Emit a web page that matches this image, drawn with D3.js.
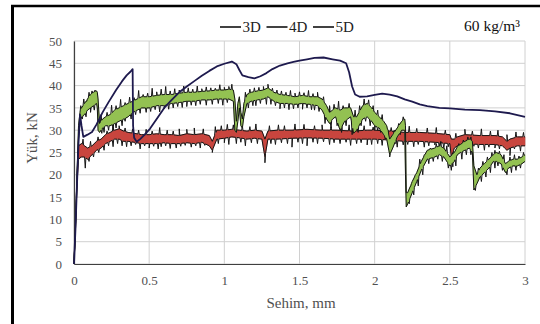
<!DOCTYPE html>
<html>
<head>
<meta charset="utf-8">
<script src="https://cdn.jsdelivr.net/npm/d3@7"></script>
<style>
  body { margin: 0; background: #fff; }
  svg { display: block; }
</style>
</head>
<body>
<div id="chart"></div>
<script>
// x ticks (mm) and y ticks (kN)
var xTicks = [0, 0.5, 1, 1.5, 2, 2.5, 3];
var yTicks = [0, 5, 10, 15, 20, 25, 30, 35, 40, 45, 50];
var seriesNames = ["3D", "4D", "5D"];

// 3D : thin dark line  [deflection, load]
var load3D = [[0,0],[0.01,8],[0.02,18],[0.03,27],[0.04,33.5],[0.05,31],[0.062,28.5],[0.09,29],[0.12,29.6],
  [0.15,31.3],[0.19,34],[0.23,36.3],[0.28,39],[0.32,41],[0.35,42.3],[0.375,43.1],[0.39,43.7],[0.393,31],
  [0.40,28.3],[0.417,27.4],[0.44,28],[0.47,29],[0.505,30.3],[0.55,32.5],[0.6,35],[0.65,36.8],[0.7,38.5],
  [0.75,39.8],[0.8,41],[0.85,42.2],[0.9,43.3],[0.95,44.3],[1.0,44.9],[1.05,45.4],[1.08,44.8],[1.1,43.5],
  [1.12,42.3],[1.16,41.9],[1.2,41.6],[1.24,42.1],[1.28,42.8],[1.32,43.7],[1.37,44.5],[1.42,45],[1.46,45.3],
  [1.5,45.6],[1.55,45.9],[1.6,46.2],[1.66,46.3],[1.72,45.9],[1.77,45.6],[1.81,45],[1.83,43],[1.85,39.8],
  [1.87,38],[1.9,37.5],[1.95,37.6],[2.0,37.9],[2.05,38.2],[2.1,38],[2.15,37.6],[2.2,36.9],[2.25,36.4],
  [2.3,35.8],[2.35,35.4],[2.43,35],[2.5,34.9],[2.6,34.6],[2.7,34.5],[2.8,34.2],[2.9,33.8],[2.95,33.4],[3.0,33]];

// 4D : noisy band [deflection, low, high]
var load4D = [[0,0,0],[0.01,8,9],[0.02,18,20],[0.03,28,31],[0.04,32,34],[0.05,33,35],[0.07,33.5,36],
  [0.09,34.5,37],[0.11,35,38],[0.13,35.5,38.5],[0.15,36,38.8],[0.155,35,38.5],[0.16,30,37],[0.17,29.5,31.5],
  [0.19,30.5,32.5],[0.21,31,33],[0.24,31,33.5],[0.27,31.5,34.5],[0.3,32,35],[0.33,32.5,35.5],[0.36,33,36],
  [0.39,34,36.5],[0.42,34.5,37],[0.45,35,37.5],[0.5,35,37.5],[0.55,35.5,37.8],[0.6,35.5,38],[0.65,36,38],
  [0.7,36.2,38.3],[0.75,36.5,38.5],[0.8,36.5,38.5],[0.85,36.8,38.7],[0.9,36.8,38.8],[0.95,37,39],[1.0,37,39],
  [1.03,37,39.2],[1.06,36.5,39],[1.07,30,37],[1.08,29.5,32],[1.09,32,36],[1.1,35,37.5],[1.11,31,34],
  [1.12,30.5,32.5],[1.13,33,36],[1.15,36,38],[1.18,36.5,38.5],[1.22,36.8,38.8],[1.26,37,39],[1.29,37.5,39.5],
  [1.33,36.5,38.5],[1.37,36,38],[1.42,36,37.8],[1.47,35.8,37.5],[1.52,36,37.8],[1.57,35.8,37.5],[1.62,35.5,37.5],
  [1.65,34.5,37],[1.68,32.5,35.5],[1.7,31.5,34],[1.72,32.5,34.5],[1.74,33,35],[1.77,30,34.5],[1.8,32,35],
  [1.82,32.5,35],[1.84,33,35],[1.86,29.3,33],[1.88,30,33],[1.92,32.5,35.5],[1.95,33,36],[1.98,32,35],
  [2.0,31,34],[2.03,30.5,33],[2.06,29,32],[2.08,28,31],[2.1,24.5,28],[2.12,26,29],[2.15,28.5,30.5],
  [2.18,30,32],[2.2,30,32.5],[2.205,20,31],[2.21,12.8,16],[2.22,13.5,16],[2.25,16,18.5],[2.28,18.5,20.5],
  [2.31,21,23],[2.35,23.5,25.5],[2.4,24,26],[2.43,24.5,26.5],[2.46,24,26],[2.5,22,24],[2.53,23,25],
  [2.55,24.5,26.3],[2.57,25,26.8],[2.6,25.5,27.5],[2.63,26,28],[2.65,25,27.5],[2.66,16.6,22],[2.68,18,20],
  [2.7,19.5,21.5],[2.73,20.5,22.5],[2.76,21.5,23.5],[2.79,23,24.5],[2.81,23,25],[2.84,22.5,24.5],
  [2.87,20.5,22.5],[2.89,21.5,23],[2.92,22,23.5],[2.95,22,23.5],[2.98,22.5,24],[3.0,23,24.5]];
var spikesUp4D = [[0.045,35.5],[0.065,37],[0.085,36.5],[0.1,38.5],[0.12,38.8],[0.14,39],[0.18,33.5],[0.22,34],
  [0.25,35.6],[0.28,35.5],[0.31,36.9],[0.34,36.2],[0.37,37.4],[0.4,37.3],[0.43,38.9],[0.46,38],[0.49,38.3],[0.52,39.4],
  [0.55,38.6],[0.58,39.2],[0.61,39.8],[0.64,38.8],[0.67,39.3],[0.7,39],[0.73,39.9],[0.76,39.5],[0.79,39.2],
  [0.82,39.9],[0.85,39.3],[0.88,39.7],[0.91,39.5],[0.94,39.4],[0.97,40.2],[1.0,39.6],[1.03,39.8],[1.05,40.3],
  [1.14,38.5],[1.17,39.2],[1.2,39.5],[1.23,39.6],[1.26,39.8],[1.29,40.3],[1.32,39.4],[1.35,39],[1.38,38.8],
  [1.41,38.5],[1.44,38.9],[1.47,38.3],[1.5,38.6],[1.53,38.4],[1.56,38.9],[1.59,38.2],[1.62,38.5],[1.66,37.5],
  [1.7,35.5],[1.73,35.8],[1.76,36.5],[1.79,35.5],[1.83,36],[1.87,34.5],[1.9,35.5],[1.93,37],[1.96,36.8],
  [1.99,35.5],[2.02,34.5],[2.05,33.5],[2.09,30],[2.13,30],[2.16,31.5],[2.19,33],[2.24,17.5],[2.27,20],
  [2.3,23.5],[2.33,24.5],[2.37,26],[2.41,27],[2.44,27.5],[2.48,26.5],[2.52,25],[2.56,27],[2.59,27.8],
  [2.62,28.5],[2.64,28.5],[2.69,21.5],[2.72,23],[2.75,24],[2.78,25],[2.8,25.5],[2.83,25.3],[2.86,24.5],
  [2.9,24],[2.93,24.5],[2.96,24.2],[2.99,25]];
var spikesDown4D = [[0.055,32.5],[0.08,33],[0.11,34],[0.135,34.5],[0.185,29.3],[0.2,29.5],[0.23,30],
  [0.26,30.2],[0.28,30.5],[0.32,31],[0.34,32],[0.38,32.5],[0.41,33.5],[0.44,33.8],[0.48,34],[0.51,34.2],
  [0.54,34.6],[0.57,34.1],[0.6,34.8],[0.63,34.7],[0.66,35],[0.69,35.3],[0.72,35.1],[0.75,35.3],[0.78,35.6],
  [0.81,35.5],[0.84,35.8],[0.88,35.6],[0.92,35.8],[0.96,36],[0.99,35.6],[1.02,36.2],[1.16,35],[1.19,35.5],
  [1.21,35.5],[1.24,36],[1.28,35.8],[1.31,35.8],[1.34,35.5],[1.37,34.8],[1.4,35],[1.43,34.6],[1.46,34.8],
  [1.49,35],[1.52,34.7],[1.55,35],[1.58,34.6],[1.6,34.5],[1.63,34.2],[1.67,31.5],[1.71,30.5],[1.75,31],
  [1.78,29.5],[1.81,31],[1.85,29],[1.89,29.5],[1.91,31],[1.94,32],[1.97,31],[2.0,30],[2.02,30],[2.04,29.5],
  [2.07,28],[2.1,24],[2.14,27],[2.17,29],[2.23,13.5],[2.26,15.5],[2.29,17.5],[2.32,20],[2.36,22.5],[2.39,23],
  [2.42,23.5],[2.45,23],[2.49,21.5],[2.51,21],[2.54,22],[2.58,23.5],[2.61,24.5],[2.64,24.5],[2.67,16.5],
  [2.71,18.5],[2.74,19.5],[2.77,20.5],[2.8,21.5],[2.82,22],[2.85,21],[2.88,20],[2.91,20.5],[2.94,21],[2.97,21.5]];

// 5D : noisy band [deflection, low, high]
var load5D = [[0,0,0],[0.01,8,9],[0.02,18,20],[0.03,23.5,26.5],[0.05,24,27],[0.07,24,26.5],[0.09,23.5,26],
  [0.12,24.5,26.5],[0.15,25.5,27.5],[0.18,26,28],[0.21,27,29],[0.24,27.5,29.5],[0.27,28,30],[0.3,28,30.3],
  [0.33,27.5,29.8],[0.36,27.5,29.5],[0.4,27.3,29.3],[0.45,27,29],[0.5,27,29],[0.55,27,29.2],[0.6,27.2,29],
  [0.65,27,29],[0.7,27,28.8],[0.75,27.2,29.2],[0.8,27,29],[0.85,27.3,29.2],[0.9,26.5,28.8],[0.92,25.5,27.5],
  [0.95,28,30],[1.0,28.2,30],[1.05,28.5,30.2],[1.1,28.3,30],[1.15,28,29.8],[1.2,28.2,30],[1.25,28,29.8],
  [1.27,24,28],[1.29,28,29.8],[1.35,28,30],[1.45,28.2,30],[1.55,28.3,30.2],[1.65,28.2,30],[1.75,28,30],
  [1.85,28,29.8],[1.95,28,30],[2.0,28,30],[2.1,27.8,29.8],[2.2,27.5,29.5],[2.3,27.5,29.5],[2.4,27.3,29.3],
  [2.5,27,29],[2.51,24,28],[2.53,26,28],[2.55,26.5,28.5],[2.6,27,29],[2.7,26.8,28.8],[2.8,26.8,28.8],
  [2.85,26.5,28.5],[2.88,25.5,27.5],[2.9,26,28],[2.95,26.5,28.5],[3.0,26.5,28.5]];
var spikesUp5D = [[0.06,28],[0.11,27.5],[0.16,28.5],[0.22,29.8],[0.26,30.8],[0.3,31],[0.34,30.5],[0.39,30.3],
  [0.43,30],[0.48,30.2],[0.52,29.8],[0.57,30.6],[0.62,30],[0.66,29.8],[0.7,30.3],[0.75,30.2],[0.8,30.5],
  [0.86,30.3],[0.94,30.8],[0.98,31],[1.02,31.3],[1.06,31.2],[1.12,31],[1.17,30.8],[1.21,31.4],[1.3,31],
  [1.36,31.2],[1.4,31],[1.47,31.4],[1.53,31.3],[1.6,31],[1.65,31.2],[1.71,30.8],[1.78,31.3],[1.83,31.2],
  [1.87,30.8],[1.93,31],[1.99,30.7],[2.05,31.1],[2.11,30.6],[2.17,30.5],[2.23,30.9],[2.28,30.4],[2.35,30.5],
  [2.41,30.6],[2.47,30],[2.54,29.3],[2.6,30.2],[2.65,29.8],[2.71,30.3],[2.77,29.8],[2.82,30],[2.88,29],
  [2.94,29.6],[2.99,29.5]];
var spikesDown5D = [[0.045,24],[0.075,21.5],[0.1,23],[0.13,24],[0.165,25],[0.2,25.5],[0.23,26.5],[0.26,26.3],
  [0.29,27],[0.32,26.5],[0.35,26.3],[0.38,26.5],[0.41,26.8],[0.44,25.8],[0.47,26.5],[0.5,26],[0.53,26.4],
  [0.56,25.8],[0.58,26.3],[0.61,26.5],[0.64,25.9],[0.68,26],[0.71,26.4],[0.74,26.6],[0.78,26.2],[0.81,26.5],
  [0.84,26],[0.87,26.6],[0.92,25],[0.96,27],[1.0,27.2],[1.03,26.8],[1.08,27],[1.11,27.3],[1.14,26.5],
  [1.18,27.2],[1.22,27],[1.27,22.7],[1.31,27],[1.34,26.8],[1.38,27.2],[1.42,27],[1.45,26.2],[1.49,27.3],
  [1.52,27],[1.55,26.5],[1.59,27.3],[1.62,27],[1.66,27.4],[1.7,26.8],[1.73,27.2],[1.77,27],[1.81,27.3],
  [1.84,26.6],[1.88,27],[1.91,27.2],[1.95,26.7],[1.98,26.8],[2.02,27],[2.05,26.6],[2.09,27],[2.12,26.8],
  [2.15,26.2],[2.19,26.7],[2.22,26.8],[2.26,26.3],[2.29,26.8],[2.33,26.2],[2.36,26.5],[2.4,26.7],[2.43,26.2],
  [2.46,25.8],[2.49,26.3],[2.52,21.8],[2.56,25.5],[2.59,26.2],[2.62,25.8],[2.66,26.4],[2.69,26],[2.73,25.5],
  [2.76,26.2],[2.8,26],[2.83,25.8],[2.86,26.2],[2.9,24.3],[2.93,25.8],[2.97,25.3]];

var FONT = "'Liberation Serif', 'Times New Roman', 'DejaVu Serif', serif";
var W = 540, H = 324;
var margin = {top: 41, right: 15, bottom: 60, left: 74};
var svg = d3.select("#chart").append("svg").attr("width", W).attr("height", H)
  .attr("font-family", FONT);

var x = d3.scaleLinear().domain([0, 3]).range([margin.left, W - margin.right]);
var y = d3.scaleLinear().domain([0, 50]).range([H - margin.bottom, margin.top]);

// outer frame (left + top visible)
svg.append("line").attr("x1", 12.5).attr("x2", 12.5).attr("y1", 5).attr("y2", H).attr("stroke", "#000").attr("stroke-width", 3);
svg.append("line").attr("x1", 11).attr("x2", W).attr("y1", 6).attr("y2", 6).attr("stroke", "#000").attr("stroke-width", 2.5);

// grid
var grid = svg.append("g");
grid.selectAll(".gy").data(yTicks).enter().append("line")
  .attr("x1", x(0)).attr("x2", x(3)).attr("y1", function(d){return y(d);}).attr("y2", function(d){return y(d);})
  .attr("stroke", "#d0d0d0").attr("stroke-width", 1);
grid.selectAll(".gx").data(xTicks).enter().append("line")
  .attr("x1", function(d){return x(d);}).attr("x2", function(d){return x(d);}).attr("y1", y(0)).attr("y2", y(50))
  .attr("stroke", "#d0d0d0").attr("stroke-width", 1);

// axes
var xAxis = svg.append("g").attr("transform", "translate(0," + y(0) + ")")
  .call(d3.axisBottom(x).tickValues(xTicks).tickSize(0).tickPadding(12).tickFormat(function(d){return String(d);}));
var yAxis = svg.append("g").attr("transform", "translate(" + x(0) + ",0)")
  .call(d3.axisLeft(y).tickValues(yTicks).tickSize(0).tickPadding(12));
[xAxis, yAxis].forEach(function(a){
  a.attr("font-family", FONT).attr("font-size", 13);
  a.select(".domain").attr("stroke", "#404040").attr("stroke-width", 1.2);
  a.selectAll("text").attr("fill", "#505050");
});

function interp(arr, idx, xv) {
  var i = d3.bisector(function(d){return d[0];}).right(arr, xv);
  if (i <= 0) return arr[0][idx];
  if (i >= arr.length) return arr[arr.length - 1][idx];
  var a = arr[i - 1], b = arr[i];
  var t = (xv - a[0]) / (b[0] - a[0]);
  return a[idx] + t * (b[idx] - a[idx]);
}

// band edge with its spikes merged in
function edge(arr, idx, spikes) {
  var pts = arr.map(function(d){return [d[0], d[idx]];});
  spikes.forEach(function(s){
    pts.push([s[0] - 0.005, interp(arr, idx, s[0] - 0.005)]);
    pts.push([s[0], s[1]]);
    pts.push([s[0] + 0.004, interp(arr, idx, s[0] + 0.004)]);
  });
  pts.sort(function(a, b){return a[0] - b[0];});
  return pts;
}

var line = d3.line().x(function(d){return x(d[0]);}).y(function(d){return y(d[1]);});
var area = d3.area().x(function(d){return x(d[0]);}).y0(function(d){return y(d[1]);}).y1(function(d){return y(d[2]);});

function band(arr, fill, up, down) {
  var g = svg.append("g");
  g.append("path").datum(arr).attr("d", area).attr("fill", fill).attr("stroke", fill).attr("stroke-width", 0.6);
  g.append("path").datum(edge(arr, 1, down)).attr("d", line).attr("fill", "none").attr("stroke", "#151515").attr("stroke-width", 1);
  g.append("path").datum(edge(arr, 2, up)).attr("d", line).attr("fill", "none").attr("stroke", "#151515").attr("stroke-width", 1);
}

band(load5D, "#c8453e", spikesUp5D, spikesDown5D);
band(load4D, "#93c152", spikesUp4D, spikesDown4D);

svg.append("path").datum(load3D).attr("d", line).attr("fill", "none")
  .attr("stroke", "#1e1a4e").attr("stroke-width", 1.8).attr("stroke-linejoin", "round");

// axis titles
svg.append("text").attr("x", 301).attr("y", 308).attr("text-anchor", "middle")
  .attr("fill", "#505050").attr("font-size", 15).text("Sehim, mm");
svg.append("text").attr("transform", "translate(37,138) rotate(-90)").attr("text-anchor", "middle")
  .attr("fill", "#505050").attr("font-size", 15).text("Yük, kN");

// legend
var leg = svg.append("g").attr("transform", "translate(220,27)");
seriesNames.forEach(function(n, i){
  var ox = i * 46.5;
  leg.append("line").attr("x1", ox).attr("x2", ox + 21).attr("y1", 0).attr("y2", 0).attr("stroke", "#111").attr("stroke-width", 1.6);
  leg.append("text").attr("x", ox + 22.5).attr("y", 5).attr("font-size", 15).attr("fill", "#222").text(n);
});

svg.append("text").attr("x", 520).attr("y", 31).attr("text-anchor", "end")
  .attr("font-size", 15.5).attr("fill", "#111").text("60 kg/m³");
</script>
</body>
</html>
